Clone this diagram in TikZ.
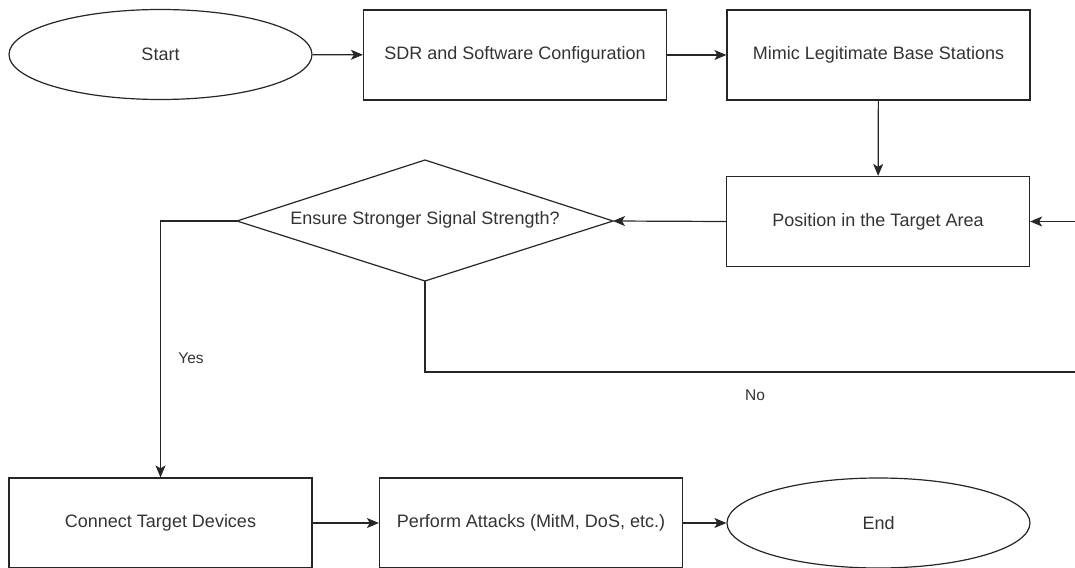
\documentclass[tikz,border=0pt]{standalone}
\usepackage{fontspec}
\setmainfont{Liberation Sans}
\usetikzlibrary{shapes.geometric,arrows.meta}
\begin{document}
\begin{tikzpicture}[x=1pt,y=-1pt,
  every node/.style={font=\fontsize{18}{21}\selectfont, text=black!80, inner sep=0pt},
  box/.style={draw=black!85, line width=1.2pt, rectangle, minimum width=303pt, minimum height=90pt},
  oval/.style={draw=black!85, line width=1.2pt, ellipse, minimum width=303pt, minimum height=90pt},
  conn/.style={draw=black!85, line width=1.2pt, -{Stealth[length=12pt,width=10pt,inset=3pt]}},
  plain/.style={draw=black!85, line width=1.2pt, line join=miter},
  lbl/.style={font=\fontsize{15.5}{19}\selectfont}]
\useasboundingbox (0,0) rectangle (1075,567);
\node[oval] (start) at (160.5,54.5) {Start};
\node[box] (sdr) at (515,55) {SDR and Software Configuration};
\node[box] (mimic) at (878.5,55) {Mimic Legitimate Base Stations};
\node[box] (pos) at (878,221.5) {Position in the Target Area};
\coordinate (dn) at (425,160);
\coordinate (de) at (613,221);
\coordinate (ds) at (425,281);
\coordinate (dw) at (237,221);
\draw[plain] (dn) -- (de) -- (ds) -- (dw) -- cycle;
\node (dec) at (425,220) {Ensure Stronger Signal Strength?};
\node[box] (cnt) at (160.5,523) {Connect Target Devices};
\node[box] (perf) at (531,523) {Perform Attacks (MitM, DoS, etc.)};
\node[oval] (endn) at (878.5,523) {End};
\coordinate (rin) at (1076,221.5);
\coordinate (nout) at (1076,372);
\node[lbl] (yes) at (191,358) {Yes};
\node[lbl] (no) at (755,395) {No};
\draw[conn] (start) -- (sdr);
\draw[conn] (sdr) -- (mimic);
\draw[conn] (mimic) -- (pos);
\draw[conn] (rin) -- (pos.east);
\draw[conn] (pos.west) -- (de);
\draw[conn] (dw) -| (cnt.north);
\draw[plain] (ds) |- (nout);
\draw[conn] (cnt) -- (perf);
\draw[conn] (perf) -- (endn);
\end{tikzpicture}
\end{document}
